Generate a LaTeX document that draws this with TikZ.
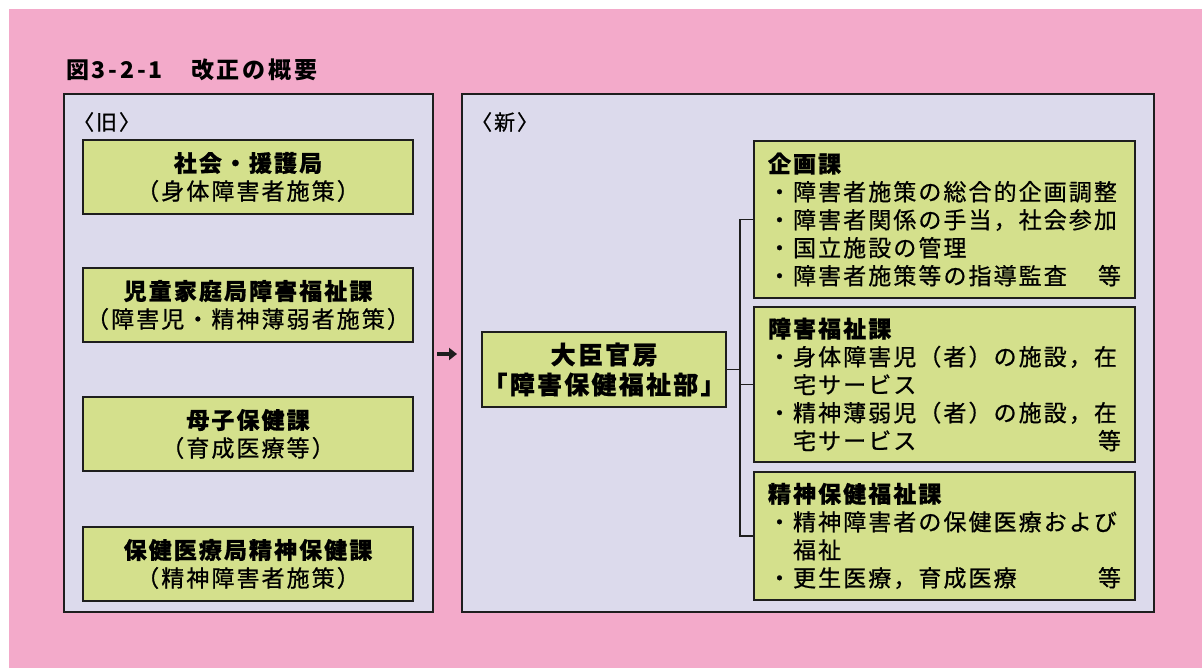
\documentclass[tikz,border=0pt]{standalone}
\usepackage{fontspec}
\newfontfamily\jp{Noto Sans CJK JP}[LetterSpace=9,FakeBold=0.8]
\newfontfamily\jpt{Noto Sans CJK JP}[LetterSpace=12]
\usetikzlibrary{arrows.meta}
\definecolor{bgpink}{RGB}{243,170,202}
\definecolor{panelc}{RGB}{220,218,236}
\definecolor{greenc}{RGB}{212,224,140}
\definecolor{edgec}{RGB}{30,30,30}
\begin{document}
\begin{tikzpicture}[x=1pt,y=-1pt,
  panelbox/.style={draw=edgec,line width=1.6pt,fill=panelc,inner sep=0pt},
  greenbox/.style={draw=edgec,line width=1.6pt,fill=greenc,inner sep=0pt,align=center,
    font=\jp\fontsize{23}{28}\selectfont},
  listbox/.style={draw=edgec,line width=1.6pt,fill=greenc,inner xsep=14pt,inner ysep=0pt,
    text width=353pt,align=left,minimum width=381pt,font=\jp\fontsize{23}{28}\selectfont},
  conn/.style={draw=edgec,line width=1.5pt},
  lbl/.style={inner sep=0pt,anchor=west,font=\jp\fontsize{21}{24}\selectfont}
]
\useasboundingbox (0,0) rectangle (1202,668);
\fill[white] (0,0) rectangle (1202,668);
\fill[bgpink] (9,9) rectangle (1202,668);

% title
\node[inner sep=0pt,anchor=west,font=\jpt\fontsize{23}{26}\selectfont\bfseries] (title) at (66,70) {図3-2-1　改正の概要};

% panels
\node[panelbox,minimum width=369pt,minimum height=518pt] (oldp) at (248.5,353) {};
\node[panelbox,minimum width=692pt,minimum height=518pt] (newp) at (808,353) {};
\node[lbl] (oldl) at (73,122) {〈旧〉};
\node[lbl] (newl) at (471,122) {〈新〉};

% old boxes
\node[greenbox,minimum width=330pt,minimum height=74pt] (o1) at (248,177)
  {\bfseries 社会・援護局\\（身体障害者施策）};
\node[greenbox,minimum width=330pt,minimum height=74pt] (o2) at (248,305)
  {\bfseries 児童家庭局障害福祉課\\（障害児・精神薄弱者施策）};
\node[greenbox,minimum width=330pt,minimum height=74pt] (o3) at (248,434)
  {\bfseries 母子保健課\\（育成医療等）};
\node[greenbox,minimum width=330pt,minimum height=74pt] (o4) at (248,564)
  {\bfseries 保健医療局精神保健課\\（精神障害者施策）};

% arrow
\coordinate (a1) at (437,354);
\coordinate (a2) at (457,354);
\draw[draw=edgec,line width=3.2pt,-{Triangle[length=8pt,width=12pt]}] (a1) -- (a2);

% central box
\node[greenbox,minimum width=244pt,minimum height=75pt,font=\jp\fontsize{25}{30}\selectfont\bfseries] (c) at (604,369.5)
  {大臣官房\\「障害保健福祉部」};

% right boxes
\node[listbox,minimum height=157pt] (r1) at (944.5,219.5)
  {\textbf{企画課}\\・障害者施策の総合的企画調整\\・障害者関係の手当，社会参加\\・国立施設の管理\\・障害者施策等の指導監査\hskip0pt plus1filll 等};
\node[listbox,minimum height=155pt] (r2) at (944.5,384.5)
  {\textbf{障害福祉課}\\・身体障害児（者）の施設，在\\　宅サービス\\・精神薄弱児（者）の施設，在\\　宅サービス\hskip0pt plus1filll 等};
\node[listbox,minimum height=128pt] (r3) at (944.5,536)
  {\textbf{精神保健福祉課}\\・精神障害者の保健医療および\\　福祉\\・更生医療，育成医療\hskip0pt plus1filll 等};

% connectors
\coordinate (j) at (740,369.5);
\draw[conn] (c.east) -- (j);
\draw[conn] (r1.west) -- (r1.west -| j) -- (r3.west -| j) -- (r3.west);
\draw[conn] (r2.west) -- (r2.west -| j);
\end{tikzpicture}
\end{document}
